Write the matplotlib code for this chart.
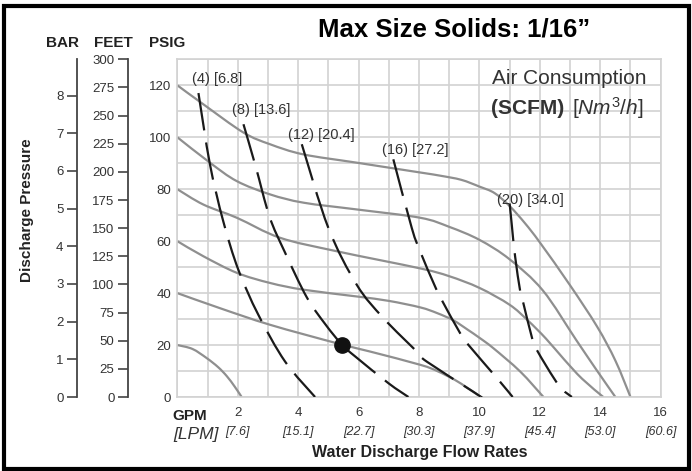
import numpy as np
import matplotlib
matplotlib.use("Agg")
import matplotlib.pyplot as plt
from matplotlib.patches import Rectangle, PathPatch
from matplotlib.path import Path

plt.rcParams['font.family'] = ['Liberation Sans', 'DejaVu Sans']
plt.rcParams['mathtext.fontset'] = 'custom'
plt.rcParams['mathtext.rm'] = 'Liberation Sans'
plt.rcParams['mathtext.it'] = 'Liberation Sans:italic'

W, H = 692, 471

# ---------------- data ----------------
# Performance curves (GPM, PSIG), labelled by starting pressure
curve120_x = [0, 0.86, 2.19, 3.07, 4.17, 5.94, 8.0, 8.7, 9.4, 10.0, 10.5, 11.0, 11.5, 12.0, 13.0, 13.9, 14.5, 15.0]
curve120_y = [120, 112.7, 101.8, 97.3, 93.4, 90.2, 86.5, 85.2, 83.6, 81, 78.5, 73.5, 67, 59.5, 43, 27, 14, 0]
curve100_x = [0, 1.08, 1.97, 3.07, 4.18, 5.94, 8.04, 9.0, 10.0, 11.0, 12.1, 13.2, 13.9, 14.5]
curve100_y = [100, 90.2, 83.1, 78, 74.8, 72.2, 69, 65.5, 60.5, 53, 41, 22, 10, 0]
curve80_x = [0, 0.86, 1.97, 3.4, 5.28, 8.04, 9.0, 10.0, 11.0, 11.6, 12.2, 12.8, 13.4, 14.1]
curve80_y = [80, 74.1, 69, 61.3, 56.1, 49.5, 46.5, 42, 35.5, 29.5, 22.5, 14.5, 7, 0]
curve60_x = [0, 0.86, 1.97, 3.07, 4.18, 5.94, 7.0, 8.04, 8.6, 9.14, 9.6, 10.0, 10.46, 11.35, 12.12]
curve60_y = [60, 54.2, 47.8, 43.9, 41.3, 38.7, 37, 34.5, 32.3, 29.5, 26, 22.8, 18.8, 9.8, 0]
curve40_x = [0, 1.41, 3.07, 5.28, 6.38, 8.04, 8.6, 9.2, 9.6, 10.05]
curve40_y = [40, 34.2, 27.8, 20.7, 17.5, 12.4, 10, 6.5, 3.5, 0]
curve20_x = [0, 0.5, 0.97, 1.35, 1.64, 1.9, 2.13]
curve20_y = [20, 18.5, 15, 11.5, 8, 4, 0]

# Air consumption lines (SCFM) [Nm3/h]
air4_x = [0.70, 1.08, 1.52, 2.02, 2.68, 3.57, 4.56]
air4_y = [117, 89.6, 67.7, 49, 31.7, 13.6, 0]
air8_x = [2.19, 2.6, 3.05, 3.55, 4.28, 4.9, 5.46, 5.9, 6.99, 7.65]
air8_y = [105, 88.5, 69.5, 56, 38.5, 28, 20, 15.5, 5.3, 0]
air12_x = [4.12, 5.0, 5.94, 6.82, 7.98, 8.26, 9.8, 10.05]
air12_y = [97.3, 65.1, 43.2, 30.4, 16.9, 13.6, 2, 0]
air16_x = [7.15, 7.76, 8.04, 8.53, 8.75, 9.36, 9.64, 10.63, 11.1]
air16_y = [91.5, 65.1, 56, 42.6, 37.4, 24.6, 20, 6.6, 0]
air20_x = [11.0, 11.07, 11.18, 11.35, 11.45, 11.74, 11.9, 12.62, 13.06]
air20_y = [74.5, 66.4, 54.2, 40.7, 36.3, 22.8, 18.1, 4.6, 0]

air_labels = ["(4) [6.8]", "(8) [13.6]", "(12) [20.4]", "(16) [27.2]", "(20) [34.0]"]
air_label_x = [0.48, 1.80, 3.68, 6.77, 10.58]
air_label_y = [122.4, 110.3, 100.8, 95.0, 76.0]

point_x = [5.46]
point_y = [20]

gpm_ticks = [2, 4, 6, 8, 10, 12, 14, 16]
lpm_labels = ["[7.6]", "[15.1]", "[22.7]", "[30.3]", "[37.9]", "[45.4]", "[53.0]", "[60.6]"]
psig_ticks = [0, 20, 40, 60, 80, 100, 120]
feet_ticks = [0, 25, 50, 75, 100, 125, 150, 175, 200, 225, 250, 275, 300]
bar_ticks = [0, 1, 2, 3, 4, 5, 6, 7, 8]


def smooth_path(xs, ys):
    """Smooth path through the given data points (Catmull-Rom as cubic Bezier)."""
    pts = np.column_stack([xs, ys]).astype(float)
    n = len(pts)
    verts = [pts[0]]
    codes = [Path.MOVETO]
    for i in range(n - 1):
        p0 = pts[i - 1] if i > 0 else pts[i]
        p1 = pts[i]
        p2 = pts[i + 1]
        p3 = pts[i + 2] if i + 2 < n else pts[i + 1]
        verts += [p1 + (p2 - p0) / 6.0, p2 - (p3 - p1) / 6.0, p2]
        codes += [Path.CURVE4] * 3
    return Path(verts, codes)


# ---------------- figure ----------------
fig = plt.figure(figsize=(W / 100, H / 100), dpi=100)
fig.patch.set_facecolor('white')


def fx(px):
    return px / W


def fy(py):
    return 1 - py / H


L, R, T, B = 177.3, 660.7, 59.3, 397.0
ax = fig.add_axes([fx(L), fy(B), (R - L) / W, (B - T) / H])
ax.set_xlim(0, 16)
ax.set_ylim(0, 130)

gridc = '#d2d2d2'
ax.set_xticks(np.arange(0, 17, 1))
ax.set_yticks(np.arange(0, 131, 10))
ax.set_yticklabels([str(v) if v in psig_ticks else '' for v in np.arange(0, 131, 10)])
ax.grid(True, color=gridc, lw=1.2, zorder=0)
ax.set_axisbelow(True)
ax.tick_params(axis='x', length=0, labelbottom=False)
ax.tick_params(axis='y', length=0, pad=4.5, labelsize=9.5, labelcolor='#333333')
for s in ax.spines.values():
    s.set_color(gridc)
    s.set_linewidth(1.2)

gray = '#8f8f8f'
for xs, ys in [(curve120_x, curve120_y), (curve100_x, curve100_y), (curve80_x, curve80_y),
               (curve60_x, curve60_y), (curve40_x, curve40_y), (curve20_x, curve20_y)]:
    ax.add_patch(PathPatch(smooth_path(xs, ys), fill=False, ec=gray, lw=1.6,
                           capstyle='butt', zorder=2))

for xs, ys in [(air4_x, air4_y), (air8_x, air8_y), (air12_x, air12_y),
               (air16_x, air16_y), (air20_x, air20_y)]:
    ax.add_patch(PathPatch(smooth_path(xs, ys), fill=False, ec='#1a1a1a', lw=1.6,
                           linestyle=(0, (17, 5.5)), capstyle='butt', zorder=3))

for s, x, y in zip(air_labels, air_label_x, air_label_y):
    ax.text(x, y, s, fontsize=10.5, color='#333333', ha='left', va='center', zorder=4)

ax.plot(point_x, point_y, 'o', ms=11, color='#111111', zorder=5)

# x tick labels
for g, lab in zip(gpm_ticks, lpm_labels):
    px = L + g * (R - L) / 16
    fig.text(fx(px), fy(413), str(g), fontsize=9.5, color='#333333', ha='center', va='center')
    fig.text(fx(px), fy(431.5), lab, fontsize=9, style='italic', color='#333333',
             ha='center', va='center')

fig.text(fx(190), fy(416), 'GPM', fontsize=11, fontweight='bold', color='#222222',
         ha='center', va='center')
fig.text(fx(196), fy(435), '[LPM]', fontsize=12.5, style='italic', color='#333333',
         ha='center', va='center')
fig.text(fx(420), fy(452.5), 'Water Discharge Flow Rates', fontsize=11.5, fontweight='bold',
         color='#222222', ha='center', va='center')

# secondary pressure scales
axc = '#444444'
ax_ft = fig.add_axes([fx(128.3), fy(B), 0.0001, (B - T) / H])
ax_ft.set_ylim(0, 300)
ax_ft.set_yticks(feet_ticks)
ax_bar = fig.add_axes([fx(77.3), fy(B), 0.0001, (B - T) / H])
ax_bar.set_ylim(0, 130 / 14.5038)
ax_bar.set_yticks(bar_ticks)
for a in (ax_ft, ax_bar):
    a.set_xticks([])
    for k in ('top', 'right', 'bottom'):
        a.spines[k].set_visible(False)
    a.spines['left'].set_color(axc)
    a.spines['left'].set_linewidth(1.3)
    a.patch.set_alpha(0)
    a.tick_params(axis='y', direction='out', length=7, width=1.2, color=axc,
                  labelsize=9.5, labelcolor='#333333', pad=3)

fig.text(fx(62.5), fy(43), 'BAR', fontsize=11, fontweight='bold', color='#222222',
         ha='center', va='center')
fig.text(fx(113), fy(43), 'FEET', fontsize=11, fontweight='bold', color='#222222',
         ha='center', va='center')
fig.text(fx(167), fy(43), 'PSIG', fontsize=11, fontweight='bold', color='#222222',
         ha='center', va='center')
fig.text(fx(27), fy(210), 'Discharge Pressure', fontsize=11, fontweight='bold',
         color='#222222', rotation=90, ha='center', va='center')

# title and legend text
fig.text(fx(454.5), fy(36.5), 'Max Size Solids: 1/16\u201d', fontsize=18.5, fontweight='bold',
         color='#000000', ha='center', va='baseline')
fig.text(fx(647), fy(78), 'Air Consumption', fontsize=15, color='#333333',
         ha='right', va='center')
fig.text(fx(564), fy(109), '(SCFM)', fontsize=15, fontweight='bold', color='#333333',
         ha='right', va='center')
fig.text(fx(572), fy(114.5), r'$\mathit{[Nm^3/h]}$', fontsize=15, color='#333333',
         ha='left', va='baseline')

# border
fig.patches.append(Rectangle((fx(3.5), fy(468.5)), (688.5 - 3.5) / W, (468.5 - 6) / H,
                             transform=fig.transFigure, fill=False, lw=3, ec='black'))

fig.savefig('out.png', dpi=100)
